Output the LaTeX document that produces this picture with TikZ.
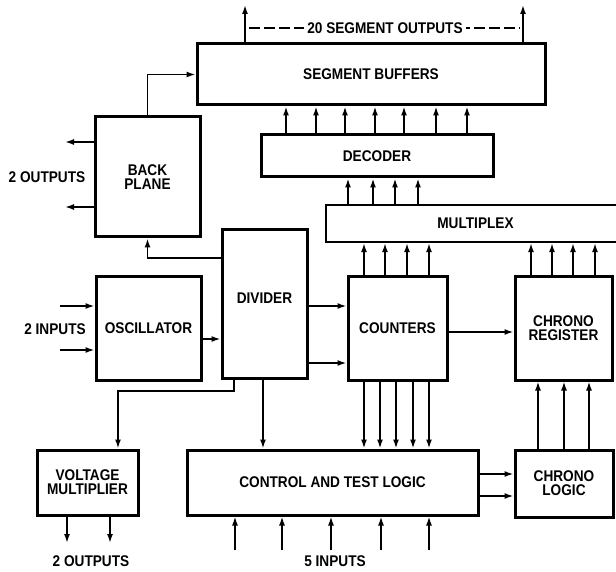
\documentclass[tikz,border=0pt]{standalone}
\usepackage{fontspec}
\newfontfamily\lbl{Liberation Sans}[FakeStretch=0.88]
\usetikzlibrary{arrows.meta}
\begin{document}
\begin{tikzpicture}[x=1pt,y=-1pt,
  every node/.style={font=\lbl\bfseries\fontsize{15.5}{14}\selectfont, align=center, inner sep=0pt},
  block/.style={draw, line width=3pt, minimum width=#1},
  thinblock/.style={draw, line width=2.3pt, minimum width=#1},
  sig/.style={line width=1.6pt, -{Latex[length=9pt,width=6pt]}},
  wire/.style={line width=1.6pt},
  tag/.style={fill=white, inner xsep=3pt}]
\useasboundingbox (0,0) rectangle (616,572);

% blocks
\node[block=348pt, minimum height=61pt] (sb) at (371,74.5) {SEGMENT BUFFERS};
\node[block=105pt, minimum height=120pt] (bp) at (147.5,177) {BACK\\PLANE};
\node[block=232pt, minimum height=42pt] (dec) at (377,156) {DECODER};
\node[thinblock=299pt, minimum height=37pt] (mux) at (475.5,223.5) {MULTIPLEX};
\node[block=85pt, minimum height=148pt] (div) at (264.5,304) {};
\node (divt) at (264.5,298) {DIVIDER};
\node[block=105pt, minimum height=103pt] (osc) at (148.5,328.5) {OSCILLATOR};
\node[block=99pt, minimum height=103pt] (cnt) at (397.5,328.5) {COUNTERS};
\node[block=97pt, minimum height=103pt] (cr) at (563.5,328.5) {CHRONO\\REGISTER};
\node[block=101pt, minimum height=65pt] (vm) at (87.5,482.5) {VOLTAGE\\MULTIPLIER};
\node[block=291pt, minimum height=65pt] (ctl) at (332.5,482.5) {CONTROL AND TEST LOGIC};
\node[block=98pt, minimum height=67pt] (cl) at (564,483.5) {CHRONO\\LOGIC};

% segment outputs
\coordinate (so1) at (245,5);
\coordinate (so2) at (523,5);
\draw[sig] (245,0 |- sb.north) -- (so1);
\draw[sig] (523,0 |- sb.north) -- (so2);
\coordinate (dl) at (249,28);
\coordinate (dr) at (520,28);
\draw[wire, dash pattern=on 11pt off 4pt] (dl) -- (dr);
\node[tag] (segout) at (385,28) {20 SEGMENT OUTPUTS};

% back plane
\draw[sig] (bp.north) |- (sb.west);
\coordinate (bpo1) at (65,142);
\coordinate (bpo2) at (65,207);
\draw[sig] (bp.west |- bpo1) -- (bpo1);
\draw[sig] (bp.west |- bpo2) -- (bpo2);
\node (bpout) at (47,177) {2 OUTPUTS};
\draw[sig] (div.west |- 0,258) -| (bp.south);

% decoder to segment buffers
\foreach \x in {286,316,345,375,404,436,467}
  \draw[sig] (\x,0 |- dec.north) -- (\x,0 |- sb.south);
% multiplex to decoder
\foreach \x in {348,373,395,418}
  \draw[sig] (\x,0 |- mux.north) -- (\x,0 |- dec.south);
% counters and chrono register to multiplex
\foreach \x in {364,385,407,429}
  \draw[sig] (\x,0 |- cnt.north) -- (\x,0 |- mux.south);
\foreach \x in {531,552,573,595}
  \draw[sig] (\x,0 |- cr.north) -- (\x,0 |- mux.south);

% oscillator
\coordinate (oi1) at (60,306);
\coordinate (oi2) at (60,350);
\draw[sig] (oi1) -- (osc.west |- oi1);
\draw[sig] (oi2) -- (osc.west |- oi2);
\node (oscin) at (55,329) {2 INPUTS};
\draw[sig] (osc.east |- 0,339) -- (div.west |- 0,339);

% divider outputs
\draw[sig] (div.east |- 0,306) -- (cnt.west |- 0,306);
\draw[sig] (div.east |- 0,363) -- (cnt.west |- 0,363);
\draw[sig] (234,0 |- div.south) -- (234,391) -| (118,0 |- vm.north);
\draw[sig] (263,0 |- div.south) -- (263,0 |- ctl.north);

% counters
\draw[sig] (cnt.east |- 0,332) -- (cr.west |- 0,332);
\foreach \x in {364,380,396,413,429}
  \draw[sig] (\x,0 |- cnt.south) -- (\x,0 |- ctl.north);

% control and chrono logic
\draw[sig] (ctl.east |- 0,474) -- (cl.west |- 0,474);
\draw[sig] (ctl.east |- 0,496) -- (cl.west |- 0,496);
\foreach \x in {538,564,589}
  \draw[sig] (\x,0 |- cl.north) -- (\x,0 |- cr.south);

% voltage multiplier outputs
\coordinate (vo1) at (67,543);
\coordinate (vo2) at (110,543);
\draw[sig] (vo1 |- vm.south) -- (vo1);
\draw[sig] (vo2 |- vm.south) -- (vo2);
\node (vmout) at (91,561) {2 OUTPUTS};

% control inputs
\foreach \x in {235,282,331,381,429}
  \draw[sig] (\x,550) -- (\x,0 |- ctl.south);
\node (ctlin) at (335,561) {5 INPUTS};
\end{tikzpicture}
\end{document}
